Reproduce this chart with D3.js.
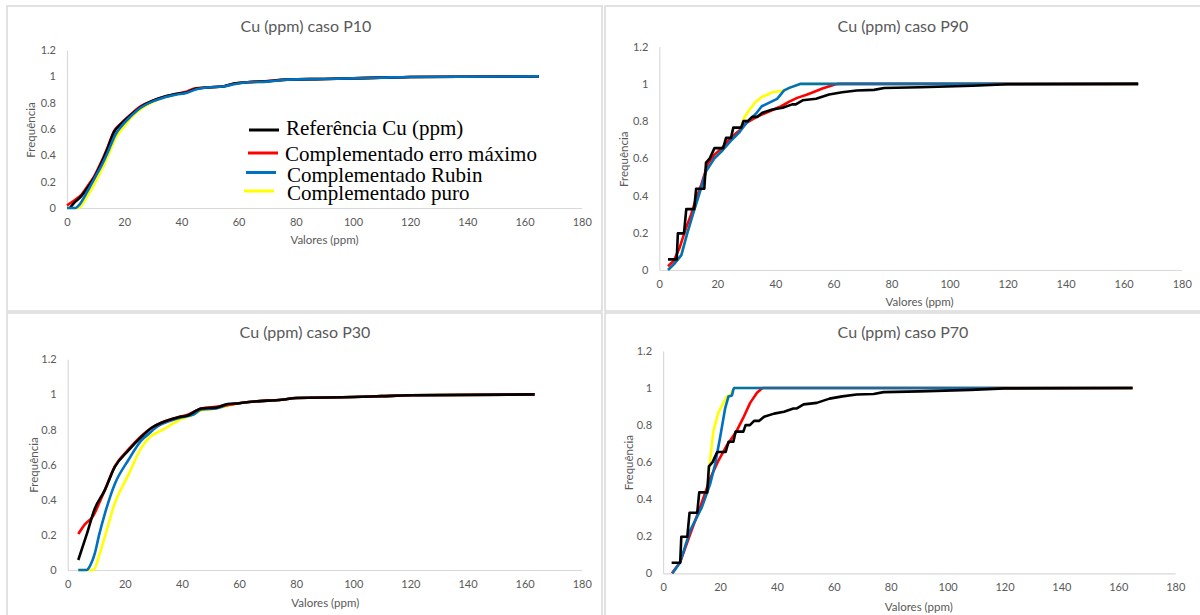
<!DOCTYPE html>
<html>
<head>
<meta charset="utf-8">
<script src="https://cdn.jsdelivr.net/npm/d3@7"></script>
<style>
  body { margin: 0; background: #fff; }
  svg { display: block; }
  text { font-family: Lato, "Noto Sans", sans-serif; }
</style>
</head>
<body>
<div id="chart"></div>
<script>
// labels
var seriesNames = ["Referência Cu (ppm)", "Complementado erro máximo", "Complementado Rubin", "Complementado puro"];
var panelTitles = ["Cu (ppm) caso P10", "Cu (ppm) caso P90", "Cu (ppm) caso P30", "Cu (ppm) caso P70"];
var xTicks = [0, 20, 40, 60, 80, 100, 120, 140, 160, 180];
var yTicks = [0, 0.2, 0.4, 0.6, 0.8, 1, 1.2];

// reference curve with its steps (P90, P70)
var refStepX = [3, 6, 6.4, 8.5, 9.3, 12, 12.7, 15.5, 16.1, 17.4, 19, 22, 23, 24.7, 25.5, 28.2, 29, 30.5, 32, 33.8, 35.5, 39, 42.5, 45.8, 47, 49.4, 54, 58.5, 63, 68, 74, 77.5, 90, 108, 120, 165];
var refStepY = [0.057, 0.057, 0.197, 0.197, 0.327, 0.327, 0.437, 0.437, 0.577, 0.6, 0.655, 0.655, 0.71, 0.71, 0.765, 0.765, 0.8, 0.8, 0.823, 0.823, 0.845, 0.862, 0.872, 0.89, 0.89, 0.912, 0.92, 0.943, 0.955, 0.965, 0.968, 0.978, 0.982, 0.99, 0.998, 1];

// P10
var p10RefX = [1, 3, 5, 7, 9.5, 12, 14, 16.5, 19, 22, 26, 30, 34, 38, 42, 45, 49, 55, 58.5, 63, 70, 77, 90, 110, 120, 165];
var p10RefY = [0, 0.05, 0.09, 0.15, 0.23, 0.34, 0.44, 0.58, 0.64, 0.7, 0.77, 0.815, 0.845, 0.865, 0.88, 0.905, 0.915, 0.925, 0.945, 0.955, 0.962, 0.975, 0.98, 0.99, 0.995, 1];
var p10ErroX = [0, 3, 5, 7, 9.5, 12, 14, 16.5, 19, 22, 26, 30, 34, 38, 42, 45, 49, 55, 58.5, 63, 70, 77, 90, 110, 120, 165];
var p10ErroY = [0.02, 0.065, 0.1, 0.16, 0.24, 0.35, 0.45, 0.585, 0.645, 0.705, 0.775, 0.815, 0.845, 0.865, 0.885, 0.91, 0.915, 0.925, 0.945, 0.955, 0.965, 0.975, 0.98, 0.99, 0.995, 1];
var p10RubinX = [0, 3, 4.5, 7, 9.5, 12, 14, 17, 19, 22, 26, 30, 34, 38, 42, 45, 49, 55, 58.5, 63, 70, 77, 90, 110, 120, 165];
var p10RubinY = [0, 0, 0.03, 0.12, 0.22, 0.32, 0.41, 0.56, 0.62, 0.69, 0.765, 0.81, 0.84, 0.86, 0.875, 0.9, 0.915, 0.925, 0.94, 0.955, 0.96, 0.975, 0.98, 0.99, 0.995, 1];
var p10PuroX = [0, 4, 6, 8, 10, 13, 15, 17, 20, 23, 26, 30, 34, 38, 42, 45, 49, 55, 58.5, 63, 70, 77, 90, 110, 120, 165];
var p10PuroY = [0, 0, 0.05, 0.12, 0.2, 0.33, 0.43, 0.53, 0.62, 0.7, 0.755, 0.805, 0.84, 0.86, 0.88, 0.91, 0.915, 0.925, 0.945, 0.955, 0.96, 0.975, 0.98, 0.99, 0.995, 1];

// P90
var p90ErroX = [3, 5, 7, 9.3, 11, 12.7, 14.5, 16.7, 19, 21.9, 24.5, 27.6, 30, 33.3, 36, 39, 42, 44.8, 47.5, 50.5, 53, 56.2, 60.8, 62, 165];
var p90ErroY = [0.02, 0.05, 0.12, 0.23, 0.3, 0.385, 0.46, 0.57, 0.62, 0.66, 0.71, 0.75, 0.79, 0.82, 0.84, 0.86, 0.88, 0.905, 0.925, 0.94, 0.955, 0.975, 0.998, 1, 1];
var p90RubinX = [3, 5, 7.6, 9.5, 11.6, 14, 16.1, 19, 21.9, 25, 27.6, 30, 33.3, 35.3, 40.6, 43, 45, 48.5, 165];
var p90RubinY = [0, 0.03, 0.08, 0.19, 0.3, 0.42, 0.53, 0.6, 0.645, 0.7, 0.74, 0.79, 0.84, 0.88, 0.92, 0.965, 0.98, 1, 1];
var p90PuroX = [3, 5, 7.6, 9.5, 11.6, 14, 16.1, 19, 21.9, 25, 27.6, 29.3, 31, 33, 35.3, 39, 43, 45, 48.5, 165];
var p90PuroY = [0, 0.03, 0.08, 0.19, 0.3, 0.42, 0.53, 0.6, 0.645, 0.7, 0.74, 0.82, 0.86, 0.9, 0.93, 0.955, 0.965, 0.98, 1, 1];

// P30
var p30RefX = [3.7, 6.6, 9.5, 13, 16.5, 21.2, 25.9, 29.4, 33, 38.7, 42, 46.8, 52, 56, 60, 65.4, 75, 80, 100, 110, 120, 163.5];
var p30RefY = [0.057, 0.2, 0.35, 0.455, 0.587, 0.68, 0.76, 0.81, 0.84, 0.87, 0.88, 0.92, 0.925, 0.945, 0.95, 0.96, 0.97, 0.98, 0.985, 0.99, 0.995, 1];
var p30ErroX = [3.7, 6, 9, 11, 13, 16.5, 21.2, 25.9, 29.4, 33, 38.7, 42, 46.8, 52, 56, 60, 65.4, 75, 80, 100, 110, 120, 163.5];
var p30ErroY = [0.205, 0.26, 0.31, 0.38, 0.455, 0.59, 0.685, 0.765, 0.81, 0.84, 0.87, 0.885, 0.92, 0.93, 0.94, 0.95, 0.96, 0.97, 0.98, 0.985, 0.99, 0.995, 1];
var p30RubinX = [3.7, 6.6, 8, 9.5, 11, 13, 16.5, 21.2, 25.9, 28, 31.7, 36, 40, 44, 46.8, 52, 56, 60, 65.4, 75, 80, 100, 110, 120, 163.5];
var p30RubinY = [0, 0, 0.03, 0.095, 0.2, 0.32, 0.49, 0.625, 0.74, 0.77, 0.82, 0.85, 0.87, 0.885, 0.915, 0.92, 0.94, 0.95, 0.96, 0.97, 0.98, 0.985, 0.99, 0.995, 1];
var p30PuroX = [3.7, 9, 11, 13, 16.5, 21.2, 25.9, 29, 32.9, 39.8, 44, 47, 52, 56, 60, 65.4, 75, 80, 100, 110, 120, 163.5];
var p30PuroY = [0, 0, 0.08, 0.19, 0.38, 0.54, 0.7, 0.76, 0.795, 0.86, 0.885, 0.91, 0.92, 0.935, 0.95, 0.96, 0.97, 0.98, 0.985, 0.99, 0.995, 1];

// P70
var p70ErroX = [3.1, 6, 9.5, 13, 16.5, 19.5, 22.4, 25.9, 28.2, 30.6, 33, 34.1, 35, 165];
var p70ErroY = [0, 0.06, 0.21, 0.356, 0.51, 0.61, 0.69, 0.77, 0.84, 0.92, 0.975, 0.99, 1, 1];
var p70RubinX = [3.3, 6, 9.5, 13.6, 16.5, 18.3, 20, 21.8, 23, 24.2, 24.7, 25, 165];
var p70RubinY = [0, 0.06, 0.23, 0.356, 0.48, 0.59, 0.73, 0.89, 0.955, 0.96, 0.993, 1, 1];
var p70PuroX = [3.3, 6, 9.5, 13.6, 15.4, 16.5, 17.7, 19.5, 21.2, 22.4, 23.5, 24.7, 25, 165];
var p70PuroY = [0, 0.06, 0.23, 0.356, 0.43, 0.61, 0.77, 0.87, 0.92, 0.955, 0.96, 0.993, 1, 1];

var colors = ["#000000", "#ff0000", "#0070c0", "#ffff00"];

function zip(xs, ys) {
    return xs.map(function(x, i) { return [x, ys[i]]; });
}

var svg = d3.select("#chart").append("svg")
    .attr("width", 1200)
    .attr("height", 615);

// panel frames
[[7, 6, 595, 305], [605, 6, 600, 305], [7, 313, 595, 310], [605, 313, 600, 310]].forEach(function(r) {
    svg.append("rect")
        .attr("x", r[0]).attr("y", r[1]).attr("width", r[2]).attr("height", r[3])
        .style("fill", "none")
        .style("stroke", "#d9d9d9")
        .style("stroke-width", 1.5);
});

function panel(o) {
    var x = d3.scaleLinear().domain([0, 180]).range([o.left, o.right]),
        y = d3.scaleLinear().domain([0, 1.2]).range([o.bottom, o.top]);

    var g = svg.append("g");

    g.append("text")
        .attr("x", o.title[0]).attr("y", o.title[1]).attr("dy", "0.35em")
        .attr("text-anchor", "middle")
        .style("font-size", "16px").style("fill", "#595959")
        .text(o.name);

    var xAxis = g.append("g")
        .attr("transform", "translate(0," + o.bottom + ")")
        .call(d3.axisBottom(x).tickValues(xTicks).tickSize(0).tickPadding(10).tickFormat(d3.format("d")));
    var yAxis = g.append("g")
        .attr("transform", "translate(" + o.left + ",0)")
        .call(d3.axisLeft(y).tickValues(yTicks).tickSize(0).tickPadding(11).tickFormat(function(d) { return String(+d.toFixed(1)); }));

    [xAxis, yAxis].forEach(function(a) {
        a.select(".domain").style("stroke", "#d9d9d9").style("stroke-width", 1.2);
        a.selectAll("text").style("font-size", "11px").style("fill", "#595959").style("font-family", "Lato, 'Noto Sans', sans-serif");
    });

    g.append("text")
        .attr("x", o.xTitle[0]).attr("y", o.xTitle[1]).attr("dy", "0.35em")
        .attr("text-anchor", "middle")
        .style("font-size", "11.5px").style("fill", "#595959")
        .text("Valores (ppm)");

    g.append("text")
        .attr("transform", "translate(" + o.yTitle[0] + "," + o.yTitle[1] + ") rotate(-90)")
        .attr("dy", "0.35em")
        .attr("text-anchor", "middle")
        .style("font-size", "11.5px").style("fill", "#595959")
        .text("Frequência");

    var line = d3.line()
        .x(function(d) { return x(d[0]); })
        .y(function(d) { return y(d[1]); })
        .curve(o.smooth ? d3.curveMonotoneX : d3.curveLinear);

    o.series.forEach(function(s) {
        g.append("path")
            .datum(zip(s.x, s.y))
            .attr("d", line)
            .style("fill", "none")
            .style("stroke", colors[s.c])
            .style("stroke-width", 2.6)
            .style("stroke-linejoin", "round");
    });
}

panel({
    name: panelTitles[0], left: 67, right: 581.7, top: 50, bottom: 208,
    title: [306, 26.5], xTitle: [324.5, 240], yTitle: [31.4, 130], smooth: true,
    series: [
        {x: p10PuroX, y: p10PuroY, c: 3},
        {x: p10ErroX, y: p10ErroY, c: 1},
        {x: p10RefX, y: p10RefY, c: 0},
        {x: p10RubinX, y: p10RubinY, c: 2}
    ]
});

panel({
    name: panelTitles[1], left: 659.3, right: 1181.7, top: 46.7, bottom: 270,
    title: [903, 26.5], xTitle: [919.6, 301.5], yTitle: [623.7, 159.3], smooth: false,
    series: [
        {x: p90PuroX, y: p90PuroY, c: 3},
        {x: p90ErroX, y: p90ErroY, c: 1},
        {x: p90RubinX, y: p90RubinY, c: 2},
        {x: refStepX, y: refStepY, c: 0}
    ]
});

panel({
    name: panelTitles[2], left: 67.7, right: 581.7, top: 359.3, bottom: 570,
    title: [305, 332.3], xTitle: [325.3, 602.7], yTitle: [33.7, 465], smooth: true,
    series: [
        {x: p30PuroX, y: p30PuroY, c: 3},
        {x: p30RubinX, y: p30RubinY, c: 2},
        {x: p30ErroX, y: p30ErroY, c: 1},
        {x: p30RefX, y: p30RefY, c: 0}
    ]
});

panel({
    name: panelTitles[3], left: 663.1, right: 1175.2, top: 351, bottom: 573.3,
    title: [903, 332.3], xTitle: [918.8, 606.5], yTitle: [628.7, 462.7], smooth: false,
    series: [
        {x: p70PuroX, y: p70PuroY, c: 3},
        {x: p70ErroX, y: p70ErroY, c: 1},
        {x: p70RubinX, y: p70RubinY, c: 2},
        {x: refStepX, y: refStepY, c: 0}
    ]
});

// legend, placed inside the P10 chart
var legendPos = [[249, 130, 286, 135], [248, 153, 285, 161], [246, 172.5, 287, 181.5], [244, 191, 287, 200]];
var legend = svg.append("g").attr("class", "legend")
    .selectAll("g")
    .data(seriesNames)
    .enter().append("g");

legend.append("line")
    .attr("x1", function(d, i) { return legendPos[i][0]; })
    .attr("x2", function(d, i) { return legendPos[i][0] + 30; })
    .attr("y1", function(d, i) { return legendPos[i][1]; })
    .attr("y2", function(d, i) { return legendPos[i][1]; })
    .style("stroke", function(d, i) { return colors[i]; })
    .style("stroke-width", 3);

legend.append("text")
    .attr("x", function(d, i) { return legendPos[i][2]; })
    .attr("y", function(d, i) { return legendPos[i][3]; })
    .style("font-family", "'Liberation Serif', 'Times New Roman', serif")
    .style("font-size", "21px")
    .style("fill", "#000")
    .text(function(d) { return d; });
</script>
</body>
</html>
